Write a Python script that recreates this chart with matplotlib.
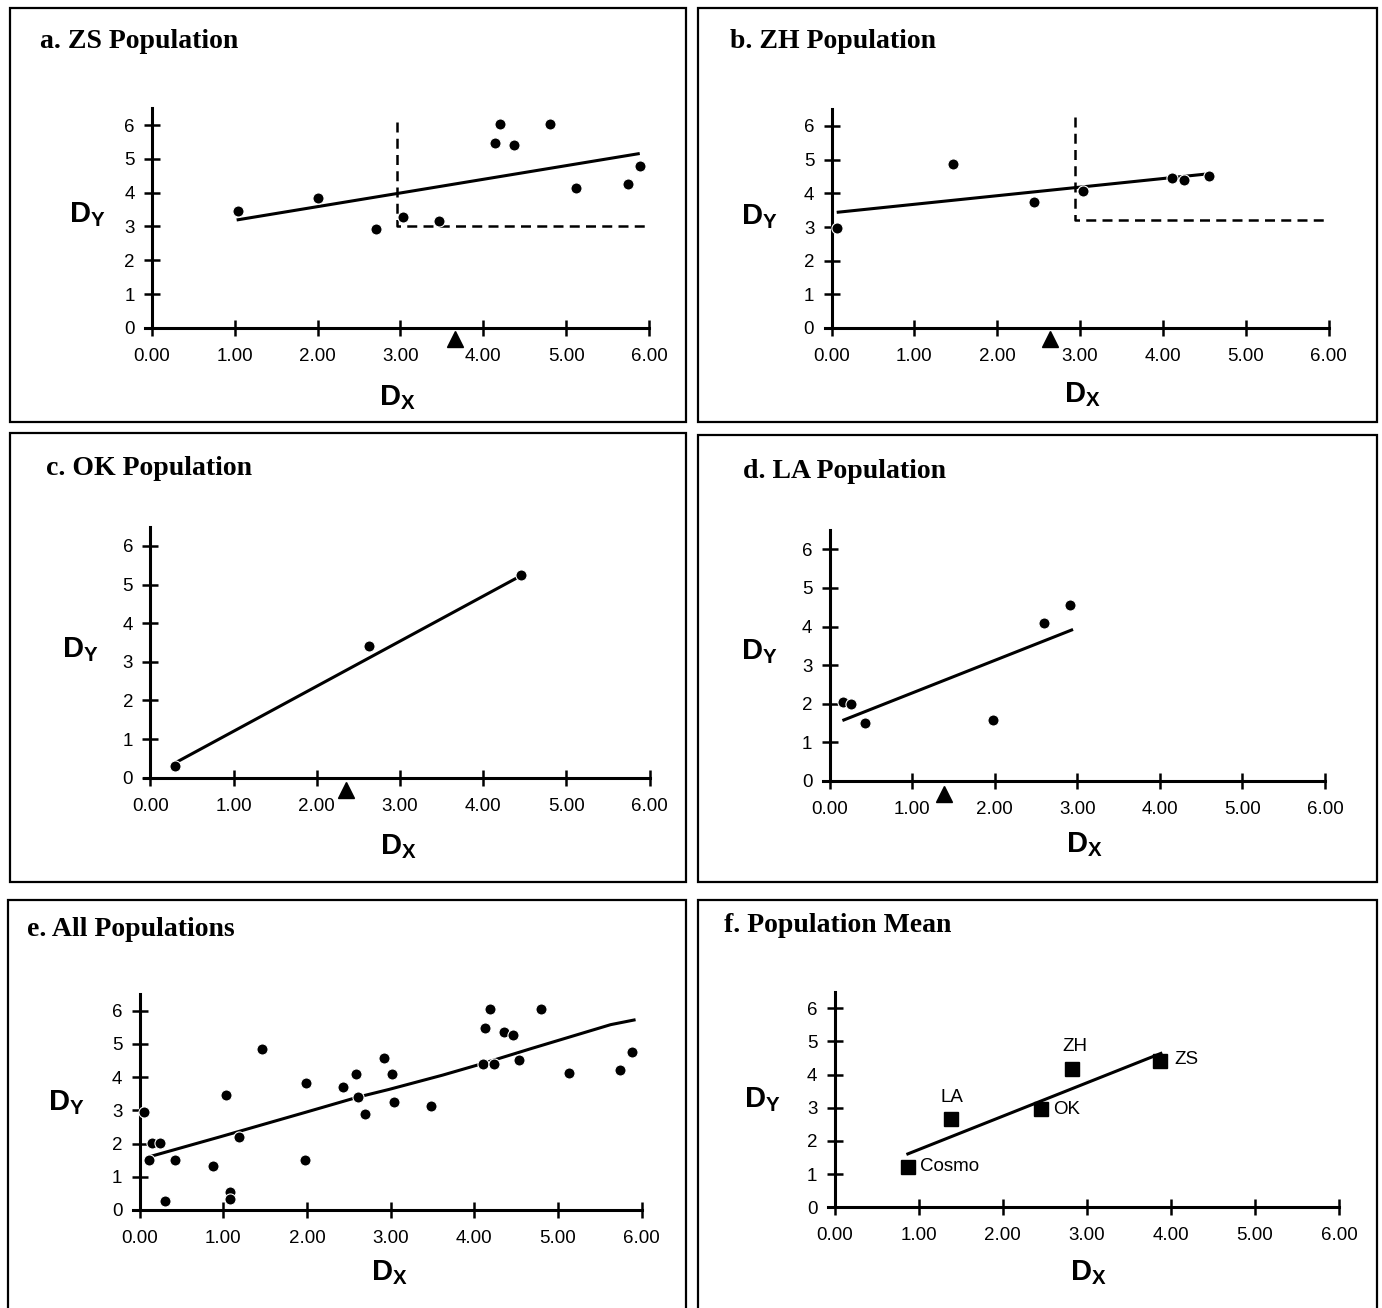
import matplotlib
matplotlib.use("Agg")
import matplotlib.pyplot as plt
from matplotlib.patches import Rectangle

plt.rcParams['font.family'] = ['Liberation Sans', 'DejaVu Sans']
plt.rcParams['mathtext.fontset'] = 'custom'
plt.rcParams['mathtext.bf'] = 'Liberation Sans:bold'
plt.rcParams['mathtext.rm'] = 'Liberation Sans'

W, H = 1382, 1308

# ---- data ----
zs_x = [1.04, 2.01, 2.70, 3.03, 3.47, 4.14, 4.20, 4.37, 4.81, 5.12, 5.75, 5.89]
zs_y = [3.47, 3.83, 2.92, 3.27, 3.17, 5.48, 6.03, 5.42, 6.03, 4.13, 4.26, 4.80]
zs_fit_x = [1.04, 5.87]
zs_fit_y = [3.20, 5.15]
zs_cut_x = [2.96, 2.96, 5.99]
zs_cut_y = [6.09, 3.00, 3.00]
zs_mark = 3.66

zh_x = [0.07, 1.46, 2.44, 3.03, 4.11, 4.26, 4.56]
zh_y = [2.96, 4.86, 3.75, 4.07, 4.45, 4.39, 4.52]
zh_fit_x = [0.08, 4.55]
zh_fit_y = [3.44, 4.58]
zh_cut_x = [2.94, 2.94, 5.94]
zh_cut_y = [6.27, 3.21, 3.21]
zh_mark = 2.64

ok_x = [0.30, 2.63, 4.46]
ok_y = [0.30, 3.42, 5.25]
ok_fit_x = [0.32, 4.41]
ok_fit_y = [0.41, 5.18]
ok_mark = 2.35

la_x = [0.16, 0.26, 0.43, 1.98, 2.59, 2.91]
la_y = [2.04, 1.99, 1.51, 1.58, 4.10, 4.56]
la_fit_x = [0.17, 2.93]
la_fit_y = [1.58, 3.91]
la_mark = 1.38

all_x = [0.05, 0.11, 0.15, 0.24, 0.30, 0.42, 0.88, 1.03, 1.08, 1.08, 1.19,
         1.46, 1.98, 1.99, 2.43, 2.59, 2.61, 2.69, 2.92, 3.01, 3.04, 3.48,
         4.10, 4.13, 4.19, 4.24, 4.35, 4.46, 4.53, 4.80, 5.13, 5.74, 5.89]
all_y = [2.96, 1.52, 2.01, 2.01, 0.28, 1.52, 1.32, 3.46, 0.53, 0.32, 2.21,
         4.84, 1.52, 3.83, 3.71, 4.08, 3.39, 2.89, 4.58, 4.08, 3.26, 3.14,
         4.39, 5.47, 6.04, 4.39, 5.35, 5.27, 4.51, 6.04, 4.13, 4.21, 4.76]
all_fit_x = [0.11, 0.97, 1.98, 2.61, 2.98, 3.62, 4.10, 4.68, 5.63, 5.91]
all_fit_y = [1.60, 2.21, 2.94, 3.40, 3.63, 4.06, 4.41, 4.86, 5.58, 5.72]

mean_names = ['Cosmo', 'LA', 'OK', 'ZH', 'ZS']
mean_x = [0.87, 1.38, 2.45, 2.82, 3.87]
mean_y = [1.23, 2.65, 2.95, 4.16, 4.41]
mean_fit_x = [0.87, 3.88]
mean_fit_y = [1.61, 4.64]

xticks = [0, 1, 2, 3, 4, 5, 6]
xtick_labels = ['0.00', '1.00', '2.00', '3.00', '4.00', '5.00', '6.00']
yticks = [0, 1, 2, 3, 4, 5, 6]

fig = plt.figure(figsize=(W / 100, H / 100), dpi=100)


def fx(px):
    return px / W


def fy(py):
    return 1 - py / H


def box(l, t, r, b):
    fig.patches.append(Rectangle((fx(l), fy(b)), fx(r) - fx(l), fy(t) - fy(b),
                                 transform=fig.transFigure, fill=False,
                                 lw=1.6, ec='black'))


def panel(x0, x6, y0, y6, title, tpos, dy_pos, dx_pos):
    ux = (x6 - x0) / 6.0
    uy = (y0 - y6) / 6.0
    left = x0 - 0.08 * ux
    top = y0 - 6.5 * uy
    ax = fig.add_axes([fx(left), fy(y0), fx(x6) - fx(left), fy(top) - fy(y0)])
    ax.set_xlim(-0.08, 6.0)
    ax.set_ylim(0, 6.5)
    ax.patch.set_alpha(0)
    for s in ['top', 'right']:
        ax.spines[s].set_visible(False)
    ax.spines['left'].set_position(('data', 0))
    for s in ['left', 'bottom']:
        ax.spines[s].set_linewidth(2.2)
        ax.spines[s].set_clip_on(False)
    ax.set_xticks(xticks)
    ax.set_xticklabels(xtick_labels)
    ax.set_yticks(yticks)
    ax.tick_params(direction='inout', length=11, width=1.8, labelsize=13.5)
    ax.tick_params(axis='x', pad=9)
    ax.tick_params(axis='y', pad=7)
    fig.text(fx(tpos[0]), fy(tpos[1]), title, family='Liberation Serif',
             weight='bold', size=20, ha='left', va='center')
    fig.text(fx(dy_pos[0]), fy(dy_pos[1]), r'$\mathbf{D_Y}$', size=21,
             ha='center', va='center')
    fig.text(fx(dx_pos[0]), fy(dx_pos[1]), r'$\mathbf{D_X}$', size=21,
             ha='center', va='center')
    return ax


def dots(ax, x, y):
    ax.plot(x, y, 'o', color='black', ms=8, mec='white', mew=0.8,
            zorder=4, clip_on=False)


def fit(ax, x, y):
    ax.plot(x, y, '-', color='black', lw=2.2, zorder=3, clip_on=False)


def cut(ax, x, y):
    ax.plot(x, y, color='black', lw=1.8, ls=(0, (4, 2.5)), zorder=2,
            clip_on=False)


def mark(ax, x):
    ax.plot([x], [-0.33], '^', color='black', ms=11, clip_on=False, zorder=5)


# panel frames
box(10, 8, 686, 422)
box(698, 8, 1377, 422)
box(10, 433, 686, 882)
box(698, 435, 1377, 882)
box(8, 900, 686, 1320)
box(698, 900, 1377, 1320)

# a. ZS
ax = panel(152, 649, 328, 125, 'a. ZS Population', (40, 42), (87, 215), (397, 398))
fit(ax, zs_fit_x, zs_fit_y)
cut(ax, zs_cut_x, zs_cut_y)
dots(ax, zs_x, zs_y)
mark(ax, zs_mark)

# b. ZH
ax = panel(831.6, 1328.5, 328, 126, 'b. ZH Population', (730, 42), (759, 217), (1082, 395))
fit(ax, zh_fit_x, zh_fit_y)
cut(ax, zh_cut_x, zh_cut_y)
dots(ax, zh_x, zh_y)
mark(ax, zh_mark)

# c. OK
ax = panel(150.4, 649.6, 777.7, 546, 'c. OK Population', (46, 468), (80, 650), (398, 847))
fit(ax, ok_fit_x, ok_fit_y)
dots(ax, ok_x, ok_y)
mark(ax, ok_mark)

# d. LA
ax = panel(829.8, 1325, 781, 549.3, 'd. LA Population', (743, 472), (759, 652), (1084, 845))
fit(ax, la_fit_x, la_fit_y)
dots(ax, la_x, la_y)
mark(ax, la_mark)

# e. all populations
ax = panel(139.8, 641.6, 1210, 1010.7, 'e. All Populations', (27, 930), (66, 1103), (389, 1273))
fit(ax, all_fit_x, all_fit_y)
dots(ax, all_x, all_y)

# f. population mean
ax = panel(834.7, 1339.1, 1207.3, 1008.3, 'f. Population Mean', (724, 925), (762, 1100), (1088, 1273))
fit(ax, mean_fit_x, mean_fit_y)
ax.plot(mean_x, mean_y, 's', color='black', ms=9.5, zorder=4)
offsets = {'Cosmo': (9, 0, 'left', 'center'), 'LA': (1, 10, 'center', 'bottom'),
           'OK': (9, 0, 'left', 'center'), 'ZH': (2, 10, 'center', 'bottom'),
           'ZS': (10, 1, 'left', 'center')}
for name, x, y in zip(mean_names, mean_x, mean_y):
    dx, dy, ha, va = offsets[name]
    ax.annotate(name, (x, y), xytext=(dx, dy), textcoords='offset points',
                ha=ha, va=va, size=13.5)

fig.savefig('out.png', dpi=100)
